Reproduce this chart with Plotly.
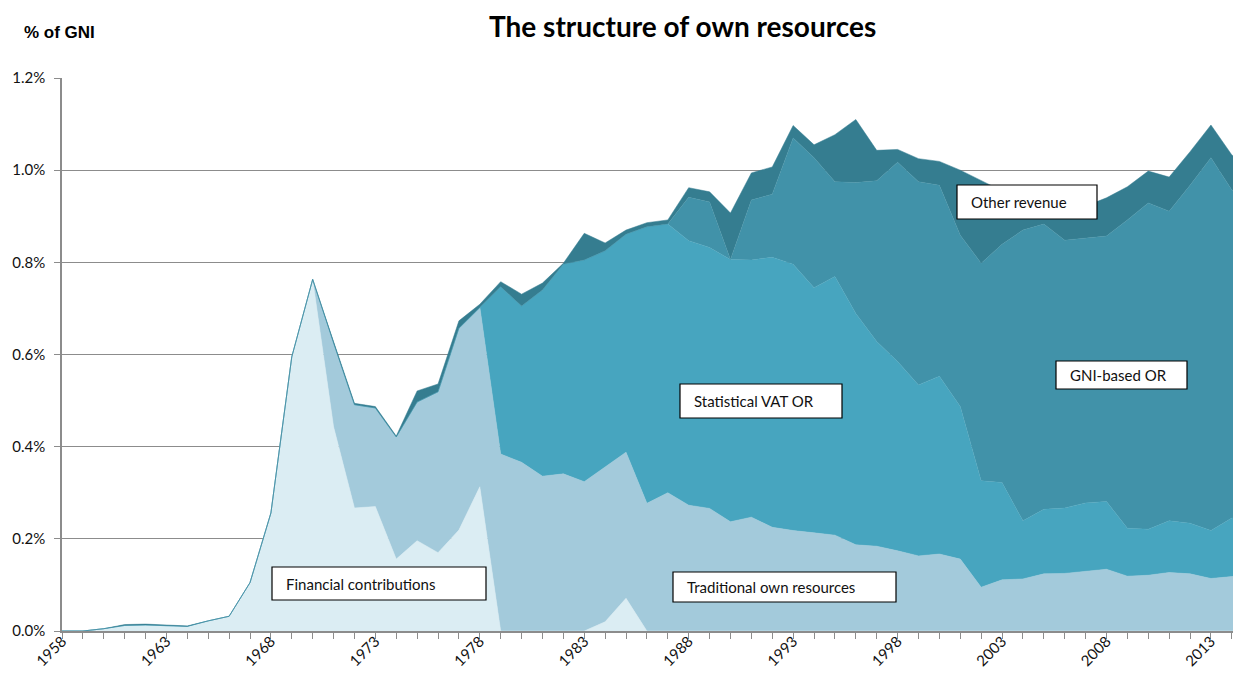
import plotly.graph_objects as go

# ---------------- data (% of GNI) ----------------
years = list(range(1958, 2016))

financial_contributions = [
    0.000, 0.000, 0.005, 0.012, 0.013, 0.011, 0.010, 0.022, 0.032, 0.105,
    0.256, 0.595, 0.763, 0.443, 0.267, 0.270, 0.156, 0.196, 0.170, 0.219,
    0.313, 0.000, 0.000, 0.000, 0.000, 0.000, 0.020, 0.071,
    0, 0, 0, 0, 0, 0, 0, 0, 0, 0, 0, 0, 0, 0, 0,
    0, 0, 0, 0, 0, 0, 0, 0, 0, 0, 0, 0, 0, 0, 0,
]

traditional_own_resources = [
    0, 0, 0, 0, 0, 0, 0, 0, 0, 0, 0, 0, 0,
    0.182, 0.224, 0.214, 0.265, 0.301, 0.349, 0.438, 0.390, 0.384, 0.366,
    0.336, 0.341, 0.324, 0.336, 0.317, 0.277, 0.300, 0.273, 0.266, 0.237,
    0.247, 0.225, 0.218, 0.213, 0.208, 0.187, 0.184, 0.174, 0.163, 0.167,
    0.156, 0.095, 0.111, 0.113, 0.124, 0.125, 0.129, 0.134, 0.119, 0.121,
    0.127, 0.124, 0.114, 0.118, 0.125,
]

statistical_vat_or = [
    0, 0, 0, 0, 0, 0, 0, 0, 0, 0, 0, 0, 0, 0, 0, 0, 0, 0, 0, 0, 0,
    0.363, 0.339, 0.404, 0.455, 0.481, 0.469, 0.473, 0.600, 0.583, 0.574,
    0.566, 0.569, 0.558, 0.586, 0.578, 0.532, 0.561, 0.502, 0.444, 0.411,
    0.371, 0.386, 0.331, 0.231, 0.211, 0.126, 0.140, 0.142, 0.149, 0.147,
    0.104, 0.100, 0.112, 0.110, 0.104, 0.127, 0.127,
]

gni_based_or = [
    0, 0, 0, 0, 0, 0, 0, 0, 0, 0, 0, 0, 0, 0, 0,
    0, 0, 0, 0, 0, 0, 0, 0, 0, 0, 0, 0, 0, 0, 0,
    0.094, 0.099, 0.000, 0.130, 0.137, 0.274, 0.282, 0.206, 0.284, 0.349,
    0.432, 0.441, 0.414, 0.372, 0.472, 0.517, 0.631, 0.619, 0.581, 0.575,
    0.576, 0.669, 0.708, 0.672, 0.733, 0.809, 0.712, 0.687,
]

other_revenue = [
    0, 0, 0, 0.002, 0.002, 0.002, 0.001, 0, 0, 0, 0, 0, 0,
    0.003, 0.003, 0.003, 0.002, 0.024, 0.017, 0.016, 0.006, 0.011, 0.026,
    0.015, 0.002, 0.058, 0.017, 0.009, 0.009, 0.009, 0.021, 0.022, 0.101,
    0.059, 0.059, 0.027, 0.028, 0.102, 0.137, 0.066, 0.028, 0.050, 0.052,
    0.141, 0.180, 0.116, 0.075, 0.052, 0.077, 0.069, 0.083, 0.072, 0.069,
    0.074, 0.073, 0.071, 0.076, 0.064,
]

series_names = ["Financial contributions", "Traditional own resources",
                "Statistical VAT OR", "GNI-based OR", "Other revenue"]
series_values = [financial_contributions, traditional_own_resources,
                 statistical_vat_or, gni_based_or, other_revenue]
series_colors = ["#DBEDF3", "#A3CADB", "#47A5BF", "#4192A9", "#357D90"]

# ---------------- figure ----------------
PAGE_OFF = 8                      # default page body margin
W, H = 1241 - PAGE_OFF, 671
L, R, T, B = 62, 1241, 78, 631    # plot area in page pixels

fig = go.Figure()
for name, vals, col in zip(series_names, series_values, series_colors):
    fig.add_trace(go.Scatter(
        x=years, y=vals, name=name, stackgroup="one", mode="lines",
        line=dict(width=0.5, color=col), fillcolor=col, hoverinfo="x+y+name",
    ))

def px(xp):
    return (xp - L) / (R - L)

def py(yp):
    return (B - yp) / (B - T)

FONT = "Lato"
TXT = "#111111"
AX = "#8c8c8c"

# label boxes (left, top, right, bottom in page pixels)
boxes = [
    ("Financial contributions", 272, 567, 486, 600),
    ("Traditional own resources", 673, 572, 896, 602),
    ("Statistical VAT OR", 680, 384, 842, 418),
    ("GNI-based OR", 1056, 361, 1187, 389),
    ("Other revenue", 957, 185, 1097, 219),
]
shapes = []
annotations = []
for text, x0, y0, x1, y1 in boxes:
    shapes.append(dict(type="rect", xref="paper", yref="paper",
                       x0=px(x0), x1=px(x1), y0=py(y1), y1=py(y0),
                       fillcolor="white", line=dict(color="#000000", width=1.2),
                       layer="above"))
    annotations.append(dict(text=text, xref="paper", yref="paper",
                            x=px(x0 + 12), y=py((y0 + y1) / 2),
                            xanchor="left", yanchor="middle", showarrow=False,
                            font=dict(family=FONT, size=15, color=TXT)))

annotations.append(dict(text="<b>The structure of own resources</b>",
                        xref="paper", yref="paper", x=px(682), y=py(26),
                        xanchor="center", yanchor="middle", showarrow=False,
                        font=dict(family=FONT, size=28, color="#000000")))
annotations.append(dict(text="<b>% of GNI</b>",
                        xref="paper", yref="paper", x=px(22), y=py(33),
                        xanchor="left", yanchor="middle", showarrow=False,
                        font=dict(family="Liberation Sans", size=17, color="#000000")))

fig.update_layout(
    width=W, height=H,
    margin=dict(l=L - PAGE_OFF, r=1241 - R, t=T - PAGE_OFF,
                b=(H + PAGE_OFF) - B, pad=0),
    plot_bgcolor="white", paper_bgcolor="white",
    showlegend=False,
    font=dict(family=FONT, color=TXT, size=15),
    shapes=shapes, annotations=annotations,
)

fig.update_xaxes(
    range=[1958, 1958 + (R - L) / 20.89],
    tickmode="linear", tick0=1958, dtick=5, tickangle=-45,
    ticks="outside", ticklen=6, tickcolor=AX, tickwidth=1,
    showline=True, linecolor=AX, linewidth=1.5,
    showgrid=False, zeroline=False,
    minor=dict(dtick=1, tick0=1958, ticks="outside", ticklen=6,
               tickcolor=AX, tickwidth=1, showgrid=False),
    tickfont=dict(family=FONT, size=15, color=TXT),
    ticklabelstandoff=-12,
)
fig.update_yaxes(
    range=[0, 1.2], tickmode="linear", tick0=0, dtick=0.2,
    tickformat=".1f", ticksuffix="%",
    ticks="outside", ticklen=6, tickcolor=AX, tickwidth=1,
    showline=True, linecolor=AX, linewidth=1.5,
    showgrid=True, gridcolor=AX, gridwidth=1, zeroline=False,
    tickfont=dict(family=FONT, size=15, color=TXT),
    ticklabelstandoff=6,
)

fig.write_html("out.html")
